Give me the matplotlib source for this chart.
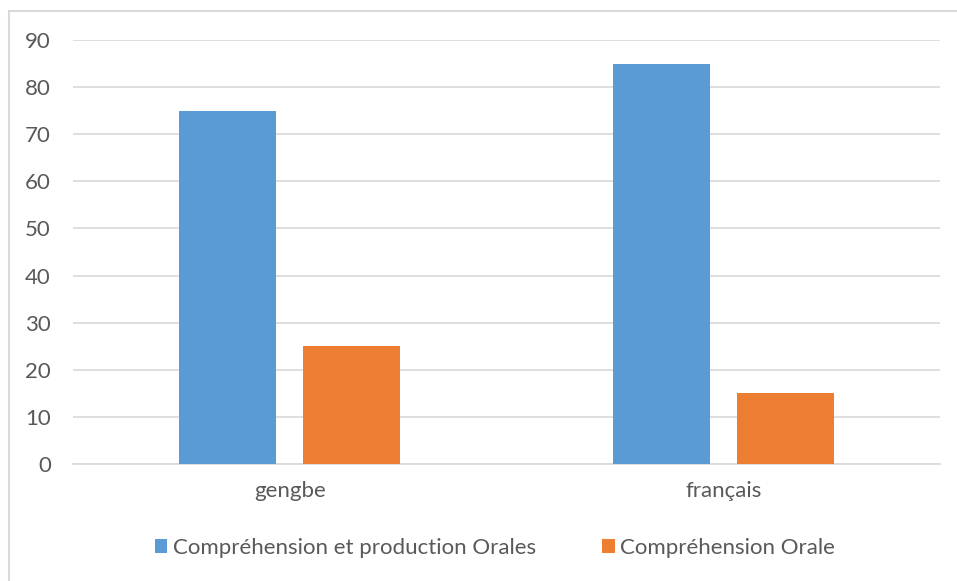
import matplotlib.pyplot as plt
from matplotlib.patches import Rectangle

categories = ['gengbe', 'français']
prod_orale = [75, 85]
comp_orale = [25, 15]
series_names = ['Compréhension et production Orales', 'Compréhension Orale']
yticks = [0, 10, 20, 30, 40, 50, 60, 70, 80, 90]

plt.rcParams['font.family'] = ['Lato', 'DejaVu Sans']
W, H = 957, 581
fig = plt.figure(figsize=(W / 100, H / 100), dpi=100)

# thin grey frame around the chart area
fig.patches.append(Rectangle((9 / W, -0.05), 1.2, 1 - 11 / H + 0.05,
                             transform=fig.transFigure, fill=False,
                             edgecolor='#d9d9d9', linewidth=1.5))

ax = fig.add_axes([73 / W, 1 - 464 / H, (940 - 73) / W, (464 - 40) / H])

x = list(range(len(categories)))
w = 0.224
off = 0.143
ax.bar([i - off for i in x], prod_orale, w, color='#5b9bd5', label=series_names[0], zorder=3)
ax.bar([i + off for i in x], comp_orale, w, color='#ed7d31', label=series_names[1], zorder=3)

ax.set_xlim(-0.5, 1.5)
ax.set_ylim(0, 90)
ax.set_yticks(yticks)
ax.yaxis.grid(True, color='#d9d9d9', linewidth=1.2, zorder=0)
for s in ['top', 'right', 'left']:
    ax.spines[s].set_visible(False)
ax.spines['bottom'].set_color('#d9d9d9')
ax.spines['bottom'].set_linewidth(1.2)
ax.set_xticks(x)
ax.set_xticklabels(categories)
ax.tick_params(axis='both', length=0, labelsize=16, labelcolor='#595959')
ax.tick_params(axis='y', pad=16)
ax.tick_params(axis='x', pad=12)

leg = fig.legend(loc='center', bbox_to_anchor=(495 / W, 1 - 548 / H), ncol=2,
                 frameon=False, fontsize=16, handlelength=0.55, handleheight=0.55,
                 handletextpad=0.25, columnspacing=3.0)
for t in leg.get_texts():
    t.set_color('#595959')

fig.savefig('out.png', dpi=100)
